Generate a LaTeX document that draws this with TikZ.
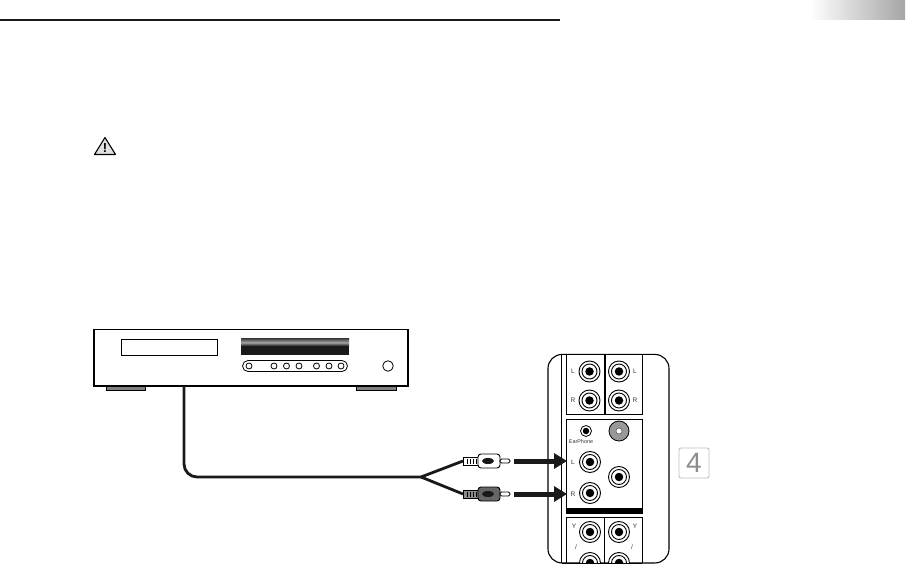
\documentclass[tikz,border=0pt]{standalone}
\usepackage{fontspec}
\setmainfont{Liberation Sans}
\usetikzlibrary{arrows.meta, calc, shapes.geometric}

\begin{document}
\begin{tikzpicture}[
    x=1pt, y=-1pt,
    every node/.style={inner sep=0pt, outer sep=0pt},
    box/.style={rectangle, draw, line width=1.1pt},
    button/.style={circle, draw, line width=0.8pt, fill=white, minimum size=6pt},
    jackout/.style={circle, draw, line width=0.9pt, fill=white, minimum size=21pt},
    jackmid/.style={circle, draw, line width=0.9pt, fill=white, minimum size=15pt},
    jackhole/.style={circle, fill=black, minimum size=8.5pt},
    jacktag/.style={font=\fontsize{6.5}{6.5}\selectfont, text=black!80},
    cable/.style={line width=2.8pt, black!90},
    feed/.style={-{Triangle[length=13pt, width=15pt]}, line width=5pt, black!90}
]
\path[use as bounding box] (0,0) rectangle (906,564);

% Page header
\draw[line width=2pt, black!90] (0,20) -- (560,20);
\shade[left color=white, right color=black!35] (810,0) rectangle (905,20);

% Warning sign
\draw[line width=1.1pt, line join=round, fill=black!12] (105,137.5) -- (115.5,154.5) -- (94.5,154.5) -- cycle;
\node[font=\bfseries\fontsize{13}{13}\selectfont] (warnmark) at (105,148) {!};

% ============ CD PLAYER ============
\fill[black!50] (106,386) rectangle (145,390);
\draw[line width=0.6pt] (106,386) rectangle (145,390);
\fill[black!50] (356,386) rectangle (396,390);
\draw[line width=0.6pt] (356,386) rectangle (396,390);
\node[box, fill=white, minimum width=314pt, minimum height=57pt] (player) at (251,357.7) {};
\draw[line width=2pt] (player.south west) -- (player.south east);
\node[box, minimum width=96pt, minimum height=16pt, line width=0.8pt] (display) at (169,347) {};
\fill[black!90] (241,339) rectangle (349,355);
\shade[top color=black!70, bottom color=black!90, middle color=black!35] (241,339) rectangle (349,346);
\node[box, line width=0.8pt, rounded corners=5.5pt, minimum width=105pt, minimum height=11pt] (buttonbar) at (295,366) {};
\foreach \i/\xpos in {1/249, 2/274, 3/286.5, 4/299, 5/316.5, 6/329, 7/341} {
    \node[button] (btn\i) at (\xpos,366) {};
}
\node[button, minimum size=10.5pt] (power) at (388,366) {};

% ============ JACK PANEL ============
\node[box, rounded corners=14pt, minimum width=121pt, minimum height=208.5pt] (panel) at (608.5,458.7) {};
\draw[line width=0.9pt] (561.5,354.5) -- (561.5,563);
% Panel boxes
\draw[line width=0.9pt] (566,354.5) -- (566,414) -- (642,414) -- (642,354.5);
\draw[line width=1.3pt] (605,354.5) -- (605,414);
\draw[line width=0.9pt] (566,419) rectangle (642,513);
\fill[black] (566,508) rectangle (642,513);
\draw[line width=0.9pt] (566,563) -- (566,517.5) -- (642,517.5) -- (642,563);
\draw[line width=0.8pt] (604,517.5) -- (604,563);

% Jacks
\begin{scope}
\clip (548,354) rectangle (669,563);
\foreach \name/\xpos/\ypos in {topL/589.5/371.5, topR/589.5/400.5, secL/619/371.5, secR/619/400.5,
    inL/590/462, inR/590/493, outC/619/477,
    lowA/590/532, lowB/619/532, lowC/590/563, lowD/619/563} {
    \node[jackout] (\name) at (\xpos,\ypos) {};
    \node[jackmid] (\name mid) at (\xpos,\ypos) {};
    \node[jackhole] (\name hole) at (\xpos,\ypos) {};
}
\end{scope}
\draw[line width=0.9pt] (561.5,563) -- (642,563);

% Earphone and coaxial
\node[circle, draw, line width=0.8pt, minimum size=11pt] (earjack) at (586,431) {};
\node[jackhole, minimum size=6.5pt] (earhole) at (586,431) {};
\node[circle, draw, line width=0.8pt, fill=black!40, minimum size=20pt] (coax) at (619,431) {};
\node[circle, draw=black!70, line width=0.5pt, fill=white, minimum size=6pt] (coaxhole) at (619,431) {};

% Panel labels
\node[jacktag] (tagtopL) at (573,371.5) {L};
\node[jacktag] (tagtopR) at (573,400.5) {R};
\node[jacktag] (tagsecL) at (635,371.5) {L};
\node[jacktag] (tagsecR) at (635,400.5) {R};
\node[jacktag, font=\fontsize{5.4}{5.4}\selectfont] (tagear) at (581,442) {EarPhone};
\node[jacktag] (taginL) at (573,462) {L};
\node[jacktag] (taginR) at (573,494) {R};
\node[jacktag] (taglowA) at (574,526) {Y};
\node[jacktag] (taglowB) at (635,526) {Y};
\node[jacktag] (tagslashA) at (576,547) {/};
\node[jacktag] (tagslashB) at (632,547) {/};

% ============ PLUGS ============
\foreach \name/\ypos/\col/\sleeve in {plugL/461/white/white, plugR/494/black!60/black!45} {
    \node[box, line width=0.8pt, fill=\sleeve, minimum width=15pt, minimum height=8pt] (\name) at (470.5,\ypos) {};
    \foreach \s in {467,470,473,476} {
        \draw[line width=1pt] (\s,\ypos-2.5) -- (\s,\ypos+2.5);
    }
    \node[box, line width=0.9pt, rounded corners=3pt, fill=\col, minimum width=22pt, minimum height=14pt] (\name body) at (489,\ypos) {};
    \node[ellipse, fill=black!90, minimum width=12pt, minimum height=6pt] (\name hole) at (488,\ypos) {};
    \node[box, line width=0.8pt, rounded corners=1.5pt, fill=white, minimum width=10pt, minimum height=4pt] (\name tip) at (505,\ypos) {};
}

% Cable
\coordinate (cableout) at (184,386);
\coordinate (fork) at (421,477);
\draw[cable, rounded corners=13pt] (cableout) |- (fork);
\draw[cable] (fork) -- (plugL.west);
\draw[cable] (fork) -- (plugR.west);

% Arrows to the inputs
\coordinate (feedL) at (514,461);
\coordinate (feedR) at (514,494);
\coordinate (portL) at (567,461);
\coordinate (portR) at (567,494);
\draw[feed] (feedL) -- (portL);
\draw[feed] (feedR) -- (portR);

% Page number
\node[rectangle, draw=black!25, line width=0.9pt, rounded corners=2pt, minimum width=30pt, minimum height=30pt,
    font=\fontsize{28}{28}\selectfont, text=black!45] (pagenum) at (694,463) {4};

\end{tikzpicture}
\end{document}
